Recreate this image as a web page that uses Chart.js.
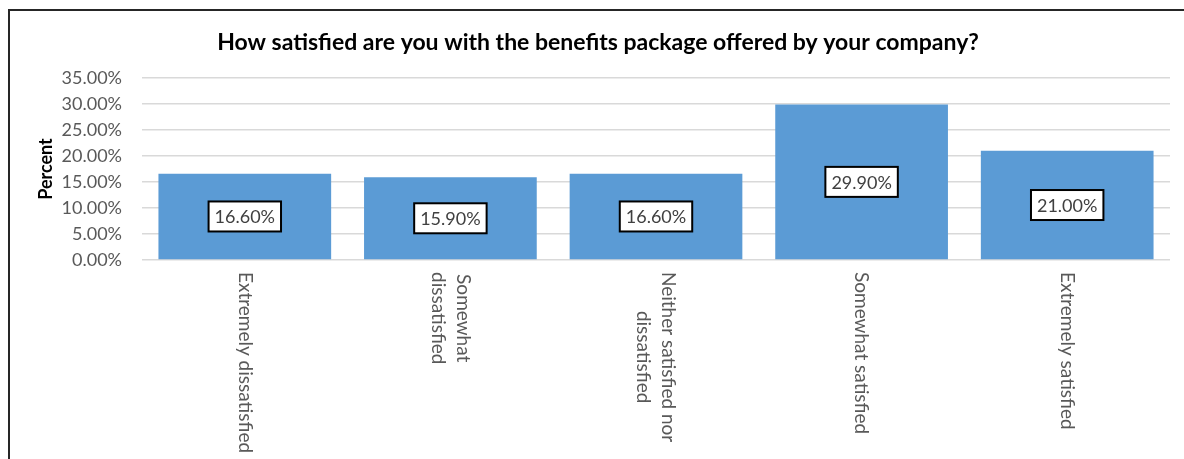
<!DOCTYPE html>
<html>
<head>
<meta charset="utf-8">
<script src="https://cdn.jsdelivr.net/npm/chart.js@4.4.1/dist/chart.umd.min.js"></script>
<style>
  html, body { margin: 0; padding: 0; background: #fff; }
  #wrap { position: relative; width: 1184px; height: 459px; }
</style>
</head>
<body>
<div id="wrap"><canvas id="c" width="1184" height="459"></canvas></div>
<script>
// Survey responses: share of respondents per answer
const categories = [
  ["Extremely dissatisfied"],
  ["Somewhat", "dissatisfied"],
  ["Neither satisfied nor", "dissatisfied"],
  ["Somewhat satisfied"],
  ["Extremely satisfied"]
];
const percentValues = [16.6, 15.9, 16.6, 29.9, 21.0];
const yTickMax = 35;
const yTickStep = 5;
const chartTitle = "How satisfied are you with the benefits package offered by your company?";
const yAxisTitle = "Percent";

const FONT = "Lato, 'Open Sans', sans-serif";
const TICK_COLOR = "#595959";

// Frame, title, bar value boxes and rotated category labels
const decorations = {
  id: "decorations",
  beforeDraw(chart) {
    const ctx = chart.ctx;
    ctx.save();
    ctx.fillStyle = "#ffffff";
    ctx.fillRect(0, 0, chart.width, chart.height);
    ctx.fillStyle = "#262626";
    ctx.fillRect(8, 9, 2, chart.height - 9);
    ctx.fillRect(8, 9, chart.width - 8, 2);
    ctx.restore();
  },
  afterDatasetsDraw(chart) {
    const ctx = chart.ctx;
    const meta = chart.getDatasetMeta(0);
    ctx.save();
    ctx.font = "18px " + FONT;
    ctx.textAlign = "center";
    ctx.textBaseline = "middle";
    meta.data.forEach((bar, i) => {
      const v = chart.data.datasets[0].data[i];
      const text = v.toFixed(2) + "%";
      const cx = bar.x;
      const cy = (bar.y + bar.base) / 2;
      const w = ctx.measureText(text).width + 12;
      const h = 30;
      ctx.fillStyle = "#ffffff";
      ctx.fillRect(cx - w / 2, cy - h / 2, w, h);
      ctx.lineWidth = 2;
      ctx.strokeStyle = "#000000";
      ctx.strokeRect(cx - w / 2, cy - h / 2, w, h);
      ctx.fillStyle = "#404040";
      ctx.fillText(text, cx, cy + 1);
    });
    ctx.restore();
  },
  afterDraw(chart) {
    const ctx = chart.ctx;
    const xs = chart.scales.x;
    ctx.save();
    // title
    ctx.font = "bold 23px " + FONT;
    ctx.fillStyle = "#000000";
    ctx.textAlign = "center";
    ctx.textBaseline = "middle";
    ctx.fillText(chartTitle, 598, 43);
    // category labels, rotated to read downward
    ctx.font = "19px " + FONT;
    ctx.fillStyle = TICK_COLOR;
    const lineH = 25;
    const top = chart.chartArea.bottom + 12;
    categories.forEach((lines, i) => {
      const x = xs.getPixelForValue(i);
      const widths = lines.map(l => ctx.measureText(l).width);
      const maxW = Math.max(...widths);
      ctx.save();
      ctx.translate(x, top);
      ctx.rotate(Math.PI / 2);
      ctx.textAlign = "left";
      ctx.textBaseline = "middle";
      lines.forEach((l, j) => {
        const off = (j - (lines.length - 1) / 2) * lineH;
        ctx.fillText(l, (maxW - widths[j]) / 2, off);
      });
      ctx.restore();
    });
    ctx.restore();
  }
};

new Chart(document.getElementById("c"), {
  type: "bar",
  data: {
    labels: categories.map(c => c.join(" ")),
    datasets: [{
      data: percentValues,
      backgroundColor: "#5b9bd5",
      borderWidth: 0,
      barPercentage: 0.84,
      categoryPercentage: 1.0
    }]
  },
  options: {
    responsive: false,
    animation: false,
    devicePixelRatio: 1,
    layout: { padding: { left: 10, right: 14, top: 78, bottom: 0 } },
    plugins: {
      legend: { display: false },
      title: { display: false },
      tooltip: { enabled: false }
    },
    scales: {
      x: {
        grid: { display: false },
        border: { display: false },
        ticks: { display: false },
        afterFit(scale) { scale.height = 199; }
      },
      y: {
        min: 0,
        max: yTickMax,
        ticks: {
          stepSize: yTickStep,
          padding: 20,
          color: TICK_COLOR,
          font: { family: FONT, size: 18 },
          callback: v => v.toFixed(2) + "%"
        },
        grid: { color: "#d9d9d9", lineWidth: 1.5, drawTicks: false },
        border: { display: false },
        title: {
          display: true,
          text: yAxisTitle,
          color: "#000000",
          font: { family: FONT, size: 18, weight: "bold" },
          padding: { top: 25, bottom: 0 }
        },
        afterFit(scale) { scale.width = 132; }
      }
    }
  },
  plugins: [decorations]
});
</script>
</body>
</html>
